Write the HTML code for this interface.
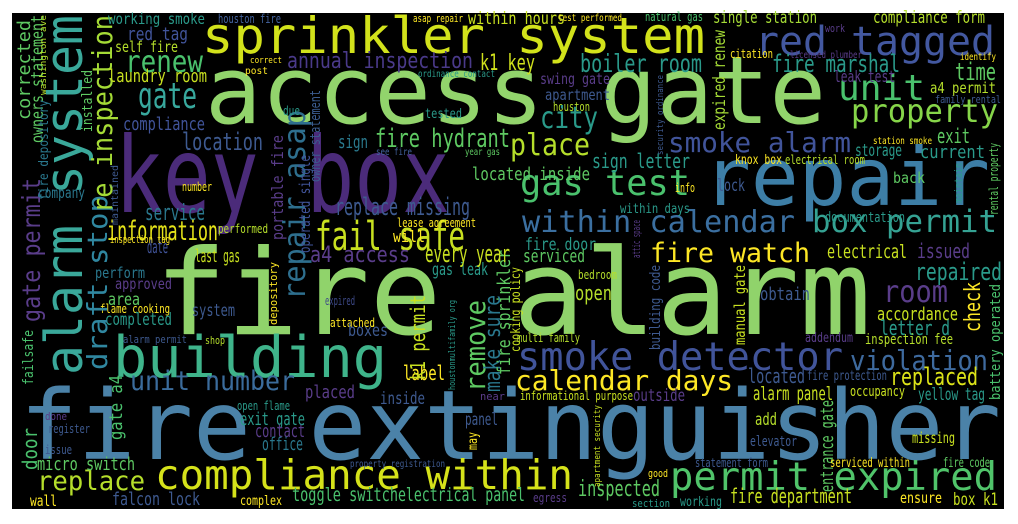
<!DOCTYPE html>
<html><head><meta charset="utf-8"><style>
html,body{margin:0;padding:0;background:#fff;width:1018px;height:524px;overflow:hidden}
svg{display:block}
text{font-family:"DejaVu Sans Mono","Liberation Mono",monospace}
</style></head><body>
<svg id="cloud" width="1018" height="524" viewBox="0 0 1018 524" xmlns="http://www.w3.org/2000/svg">
<rect x="12" y="13" width="992" height="496" fill="#000"/>
</svg>
<script>
// [text, x, baselineY, fontSize, color, length(0=auto), vertical]
const words = [
["fire extinguisher",20,459,96,"#4b82a8",981,0],
["fire alarm",155,334,119,"#90d36b",716,0],
["access gate",205,123,94,"#92d46c",621,0],
["key box",115,212,105,"#4b2b7a",335,0],
["repair",703,205,80,"#3d7ea6",287,0],
["sprinkler system",202,53,50,"#d2e21b",503,0],
["building",113,377,57,"#3fb48b",274,0],
["alarm system",82,375,52,"#3aa89a",360,1],
["red tagged",755,55,40,"#4358a0",240,0],
["unit",838,100,36,"#4ac16d",87,0],
["property",851,122,32,"#86d549",147,0],
["smoke alarm",668,152,28,"#41549a",183,0],
["gas test",520,195,36,"#4ac16d",170,0],
["within calendar",522,232,30,"#3b6fa0",273,0],
["box permit",812,232,31,"#35a293",185,0],
["fail safe",315,250,40,"#c8e020",150,0],
["fire watch",650,262,27,"#fde725",160,0],
["smoke detector",517,370,39,"#41549a",326,0],
["violation",850,370,28,"#3e6a9e",138,0],
["calendar days",515,390,28,"#fde725",218,0],
["compliance within",155,489,41,"#d5e21a",418,0],
["permit expired",670,490,39,"#50c46a",327,0],
["replace",37,490,27,"#b5de2b",108,0],
["unit number",130,390,27,"#3b6c9c",165,0],
["room",883,302,30,"#5a3d8a",65,0],
["repaired",915,280,24,"#2a9a8a",87,0],
["replaced",890,385,24,"#dce319",88,0],
["check",980,332,22,"#fde725",50,1],
["accordance",877,320,18,"#c8e020",81,0],
["letter d",880,335,20,"#2a9a8a",70,0],
["inspection fee",865,344,14,"#b5de2b",88,0],
["addendum",805,342,13,"#5a3d8a",48,0],
["obtain",760,300,18,"#3e5a90",50,0],
["open",575,300,20,"#b5de2b",37,0],
["bedroom",578,279,12,"#b5de2b",39,0],
["manual gate",745,345,15,"#c8e020",80,1],
["building code",660,350,14,"#3e5a90",85,1],
["cooking policy",520,352,13,"#c8e020",85,1],
["multi family",517,342,12,"#b5de2b",63,0],
["located",748,383,20,"#3e5a90",57,0],
["fire protection",807,380,13,"#3e5a90",80,0],
["informational purpose",520,400,12,"#c8e020",113,0],
["outside",633,401,17,"#5a3d8a",52,0],
["alarm panel",753,400,19,"#c8e020",80,0],
["occupancy",850,396,14,"#c8e020",55,0],
["yellow tag",918,400,17,"#2a9a8a",67,0],
["battery operated",1000,400,14,"#4ac16d",116,1],
["add",755,425,17,"#b5de2b",22,0],
["elevator",750,446,14,"#3e5a90",47,0],
["missing",912,443,15,"#c8e020",43,0],
["entrance gate",833,492,18,"#5ec962",92,1],
["statement form",695,467,12,"#3e5a90",73,0],
["serviced within",830,467,13,"#fde725",80,0],
["fire code",943,467,13,"#5ec962",47,0],
["ensure",900,503,15,"#fde725",42,0],
["box k1",953,505,17,"#c8e020",45,0],
["inspected",578,496,22,"#5ec962",82,0],
["egress",533,502,12,"#5a3d8a",34,0],
["section",632,507,11,"#2a9a8a",38,0],
["working",680,506,13,"#2a9a8a",42,0],
["fire department",730,503,20,"#c8e020",122,0],
["good",648,477,11,"#fde725",20,0],
["apartment security",600,487,9,"#c8e020",82,1],
["wall",30,506,15,"#fde725",27,0],
["falcon lock",112,505,18,"#3e5a90",88,0],
["complex",240,505,13,"#fde725",42,0],
["toggle switch",292,501,19,"#4ac16d",106,0],
["electrical panel",398,501,19,"#4ac16d",127,0],
["micro switch",37,470,18,"#5ec962",98,0],
["property registration",350,467,10,"#3e5a90",95,0],
["door",37,470,20,"#4ac16d",42,1],
["gate a4",122,440,18,"#4ac16d",65,1],
["done",45,420,11,"#5a3d8a",22,0],
["register",48,433,12,"#3e5a90",42,0],
["issue",45,454,12,"#3e5a90",27,0],
["exit gate",240,425,18,"#2a9a8a",65,0],
["contact",255,437,18,"#5a3d8a",50,0],
["office",262,450,18,"#2a788e",41,0],
["panel",465,425,17,"#3e5a90",33,0],
["may",477,450,13,"#fde725",18,1],
["placed",305,398,18,"#5a3d8a",50,0],
["inside",380,404,17,"#3e5a90",45,0],
["open flame",237,410,12,"#2a9a8a",53,0],
["near",480,400,11,"#5a3d8a",25,0],
["label",403,380,20,"#fde725",42,0],
["k1 permit",425,380,20,"#c8e020",85,1],
["houstonmultifamily org",455,390,9,"#2a9a8a",90,1],
["remove",485,392,28,"#5ec962",92,1],
["make sure",500,392,22,"#2a788e",97,1],
["fire sprinkler",510,375,18,"#5ec962",125,1],
["gas leak",432,275,17,"#2a9a8a",56,0],
["perform",95,278,15,"#2a788e",50,0],
["approved",115,289,15,"#5a3d8a",57,0],
["area",108,305,17,"#5ec962",32,0],
["flame cooking",100,313,12,"#fde725",70,0],
["completed",105,325,17,"#2a9a8a",67,0],
["system",192,316,17,"#3e5a90",43,0],
["depository",277,325,11,"#fde725",63,1],
["expired",325,305,12,"#3e4a89",30,0],
["attached",330,327,12,"#fde725",45,0],
["boxes",348,336,17,"#3e5a90",40,0],
["alarm permit",123,343,11,"#3e5a90",64,0],
["shop",205,344,11,"#b5de2b",20,0],
["failsafe",33,385,14,"#4ac16d",55,1],
["gate permit",40,322,25,"#5a3d8a",144,1],
["draft stop",107,370,28,"#3087a0",175,1],
["re inspection",112,213,28,"#a5db36",198,1],
["installed",92,132,14,"#5ec962",62,1],
["corrected",30,120,18,"#5ec962",100,1],
["owners statement",43,143,17,"#5ec962",128,1],
["fire depository",48,200,13,"#2a788e",100,1],
["washington ave",46,95,9,"#b5de2b",80,1],
["working smoke",108,24,15,"#2a9a8a",97,0],
["houston fire",218,23,12,"#4464a0",63,0],
["red tag",127,40,18,"#41549a",61,0],
["self fire",115,52,15,"#b5de2b",63,0],
["renew",125,72,30,"#4ac16d",78,0],
["annual inspection",287,68,22,"#4a3a8a",186,0],
["k1 key",480,70,22,"#d0e11c",55,0],
["correct",250,63,9,"#fde725",32,0],
["post",245,74,10,"#fde725",23,0],
["laundry room",108,82,18,"#c8e020",99,0],
["gate",138,108,36,"#38a89d",59,0],
["compliance",123,130,18,"#41549a",82,0],
["location",182,150,24,"#3e5a90",81,0],
["sign",338,148,18,"#2a7a8e",30,0],
["fire hydrant",375,147,26,"#5ec962",135,0],
["see fire",376,155,10,"#4464a0",36,0],
["year gas",465,155,10,"#5ec962",35,0],
["company",38,198,15,"#2a788e",47,0],
["service",145,220,22,"#2a788e",60,0],
["information",107,240,27,"#e5e419",111,0],
["date",147,253,18,"#41549a",21,0],
["replace missing",335,215,24,"#3e5a90",135,0],
["lease agreement",397,227,12,"#fde725",79,0],
["will",393,242,16,"#fde725",32,0],
["every year",425,262,24,"#c8e020",85,0],
["performed",218,233,12,"#b5de2b",50,0],
["number",182,191,12,"#fde725",30,0],
["portable fire",283,240,16,"#5a3d8a",105,1],
["repair asap",305,300,30,"#2e6f8e",190,1],
["operated single",310,253,15,"#41549a",98,1],
["owner statement",320,182,14,"#3b5c8f",92,1],
["a4 access",310,262,22,"#5a3d8a",100,0],
["last gas",195,262,18,"#c8e020",45,0],
["inspection tag",110,243,11,"#fde725",60,0],
["maintained",118,225,10,"#3e5a90",60,1],
["due",283,115,12,"#2a9a8a",17,0],
["tested",425,118,13,"#2a9a8a",37,0],
["ordinance contact",418,77,10,"#2a9a8a",77,0],
["asap repair",413,22,11,"#fde725",50,0],
["within hours",468,24,17,"#c8e020",97,0],
["test performed",558,21,10,"#fde725",64,0],
["natural gas",645,21,12,"#4ac16d",58,0],
["single station",713,23,17,"#a5db36",104,0],
["compliance form",873,23,17,"#b5de2b",112,0],
["work",825,32,11,"#5a3d8a",20,0],
["citation",730,58,12,"#fde725",43,0],
["licensed plumber",790,58,10,"#5a3d8a",72,0],
["identify",960,60,10,"#fde725",36,0],
["boiler room",580,72,25,"#2a9a8a",122,0],
["fire marshal",772,72,24,"#2a9a8a",128,0],
["time",955,80,24,"#5ec962",41,0],
["expired renew",725,130,17,"#a5db36",100,1],
["security ordinance",663,155,9,"#3e5a90",80,1],
["swing gate",540,84,15,"#5a3d8a",70,0],
["leak test",834,82,16,"#5a3d8a",61,0],
["a4 permit",930,93,15,"#b5de2b",66,0],
["family rental",935,103,11,"#3e5a90",66,0],
["apartment",545,100,15,"#3e5a90",65,0],
["houston",553,111,12,"#b5de2b",37,0],
["city",540,128,30,"#2a9a8a",58,0],
["station smoke",873,144,10,"#fde725",59,0],
["exit",937,143,20,"#5ec962",33,0],
["place",510,155,30,"#b5de2b",80,0],
["storage",855,156,17,"#2a9a8a",47,0],
["current",920,158,18,"#2a9a8a",65,0],
["knox box",735,164,13,"#fde725",47,0],
["electrical room",785,164,12,"#b5de2b",80,0],
["sign letter",592,168,20,"#2a9a8a",98,0],
["located inside",472,180,18,"#5ec962",118,0],
["info",675,192,12,"#fde725",20,0],
["lock",717,191,17,"#3e5a90",28,0],
["back",893,183,15,"#5ec962",32,0],
["within days",620,213,13,"#2a9a8a",70,0],
["documentation",825,222,14,"#2a9a8a",80,0],
["maintain",962,203,11,"#2a9a8a",40,1],
["rental property",998,215,12,"#5ec962",72,1],
["attic space",640,258,11,"#5a3d8a",38,1],
["fire door",525,250,17,"#2a9a8a",71,0],
["electrical",827,258,19,"#c8e020",80,0],
["issued",917,258,20,"#5a3d8a",53,0],
["serviced",523,262,18,"#5ec962",62,0]
];
const svg = document.getElementById('cloud');
const NS = 'http://www.w3.org/2000/svg';
words.forEach(function(w){
  const t = document.createElementNS(NS,'text');
  
  
  t.setAttribute('font-size', w[3]);
  t.setAttribute('fill', w[4]);
  if (w[6]) {
    t.setAttribute('x', 0); t.setAttribute('y', 0);
    t.setAttribute('transform', 'translate(' + w[1] + ',' + w[2] + ') rotate(-90)');
  } else {
    t.setAttribute('x', w[1]); t.setAttribute('y', w[2]);
  }
  if (w[5]) { t.setAttribute('textLength', w[5]); t.setAttribute('lengthAdjust', 'spacingAndGlyphs'); }
  t.textContent = w[0];
  svg.appendChild(t);
});
</script>
</body></html>
